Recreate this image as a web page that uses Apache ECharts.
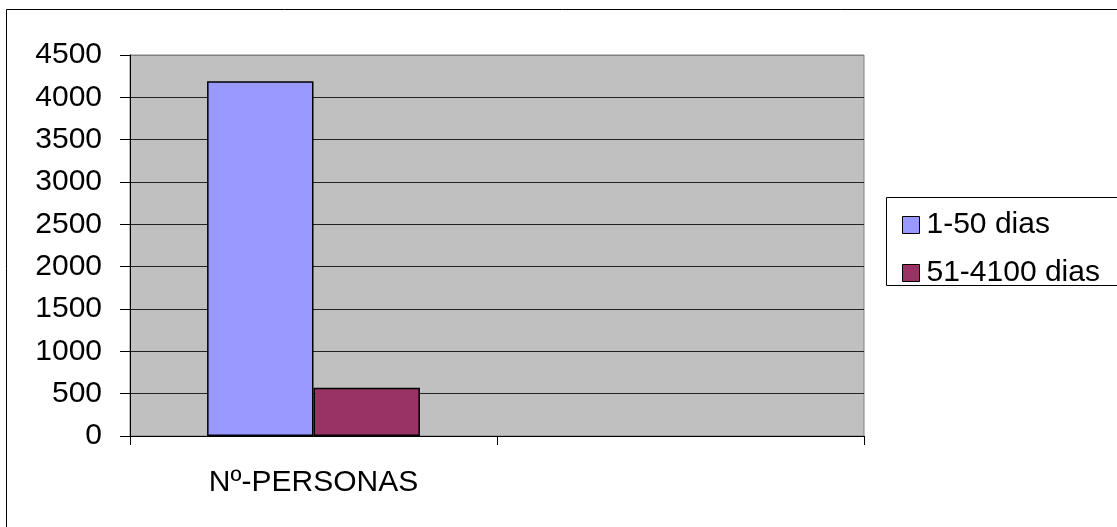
<!DOCTYPE html>
<html>
<head>
<meta charset="utf-8">
<script src="https://cdn.jsdelivr.net/npm/echarts@6/dist/echarts.min.js"></script>
<style>
html,body{margin:0;padding:0;background:#fff;}
#c{width:1117px;height:527px;}
</style>
</head>
<body>
<div id="c"></div>
<script>
const categories = ['Nº-PERSONAS', ''];
const seriesNames = ['1-50 dias', '51-4100 dias'];
const values1 = [4190, null];
const values2 = [570, null];
const yTicks = { min: 0, max: 4500, interval: 500 };

const FONT = '"Liberation Sans", Arial, sans-serif';
const chart = echarts.init(document.getElementById('c'), null, { renderer: 'canvas' });
chart.setOption({
  backgroundColor: '#ffffff',
  animation: false,
  grid: {
    left: 130, top: 55, right: 253, bottom: 91,
    show: true, backgroundColor: '#c0c0c0', borderColor: '#808080', borderWidth: 1
  },
  graphic: [
    { type: 'rect', shape: { x: 6.5, y: 9.5, width: 1200, height: 600 },
      style: { fill: 'none', stroke: '#000', lineWidth: 1 }, z: 0, silent: true },
    { type: 'rect', shape: { x: 886.5, y: 197.5, width: 300, height: 88 },
      style: { fill: 'none', stroke: '#000', lineWidth: 1 }, z: 10, silent: true }
  ],
  legend: {
    orient: 'vertical', left: 897, top: 205,
    itemWidth: 17, itemHeight: 17, itemGap: 18,
    icon: 'rect',
    textStyle: { fontFamily: FONT, fontSize: 30, color: '#000', padding: [0, 0, 0, 2] },
    itemStyle: { borderColor: '#000', borderWidth: 1 },
    data: seriesNames
  },
  xAxis: {
    type: 'category', data: categories, boundaryGap: true,
    axisLine: { lineStyle: { color: '#000', width: 1 } },
    axisTick: { show: true, alignWithLabel: false, length: 9, lineStyle: { color: '#000' } },
    axisLabel: { fontFamily: FONT, fontSize: 30, color: '#000', margin: 32 },
    splitLine: { show: false }
  },
  yAxis: {
    type: 'value', min: yTicks.min, max: yTicks.max, interval: yTicks.interval,
    axisLine: { show: true, lineStyle: { color: '#000', width: 1 } },
    axisTick: { show: true, length: 10, lineStyle: { color: '#000' } },
    axisLabel: { fontFamily: FONT, fontSize: 30, color: '#000', margin: 28,
      formatter: function (v) { return String(v); } },
    splitLine: { show: true, lineStyle: { color: ['#222','#222','#222','#222','#222','#222','#222','#222','#222','#808080'], width: 1 } }
  },
  series: [
    { name: seriesNames[0], type: 'bar', data: values1, barGap: '0%', barCategoryGap: '42%',
      itemStyle: { color: '#9999ff', borderColor: '#000', borderWidth: 1.5 } },
    { name: seriesNames[1], type: 'bar', data: values2,
      itemStyle: { color: '#993366', borderColor: '#000', borderWidth: 1.5 } }
  ]
});
</script>
</body>
</html>
